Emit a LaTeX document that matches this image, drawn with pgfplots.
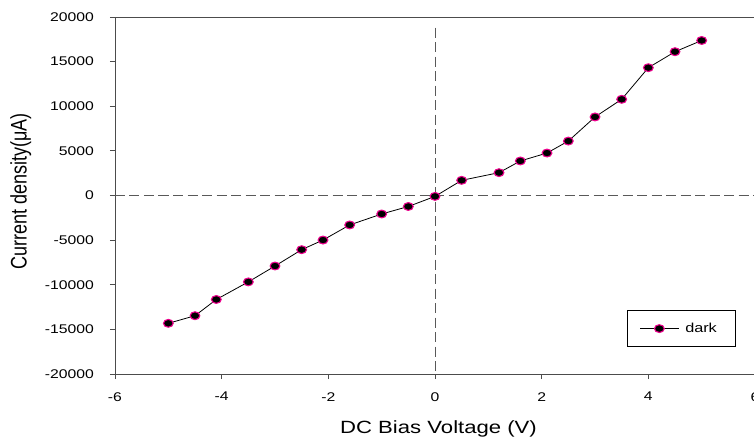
\documentclass[border=0pt]{standalone}
\usepackage{fontspec}
\setmainfont{Liberation Sans}
\newfontfamily\sfst{Liberation Sans}[FakeStretch=1.25]
\usepackage{pgfplots}
\pgfplotsset{compat=1.18}
\definecolor{axgray}{gray}{0.3}
\definecolor{dashgray}{gray}{0.35}
\begin{document}
\begin{tikzpicture}
\begin{axis}[
  at={(0pt,0pt)}, anchor=south west,
  scale only axis, width=640pt, height=357pt,
  xmin=-6, xmax=6, ymin=-20000, ymax=20000,
  xtick={-6,-4,...,6}, ytick={-20000,-15000,...,20000},
  scaled y ticks=false, scaled x ticks=false,
  tick pos=left, tick align=outside, major tick length=5pt,
  axis line style={draw=axgray, line width=0.9pt},
  tick style={draw=axgray, line width=0.9pt},
  /pgf/number format/assume math mode=true,
  /pgf/number format/set thousands separator={},
  ticklabel style={font=\fontsize{12.6}{14}\sfst, inner sep=0pt},
  xticklabel style={anchor=north},
  yticklabel style={anchor=east},
  xticklabel shift=13pt,
  yticklabel shift=16pt,
  xlabel={DC Bias Voltage (V)},
  xlabel style={font=\fontsize{17.7}{20}\sfst, at={(axis description cs:0.5055,0)}, anchor=base, yshift=-59pt, inner sep=0pt},
  ylabel={\scalebox{1}[1.25]{Current density(μA)}},
  ylabel style={font=\fontsize{18}{20}\selectfont, at={(axis description cs:-0.138,0.511)}, anchor=base, inner sep=0pt},
  legend style={at={(axis description cs:0.970,0.0756)}, anchor=south east,
    draw=black, line width=0.9pt, inner xsep=13pt, inner ysep=9.5pt,
    nodes={inner xsep=5.5pt, inner ysep=3pt},
    font=\fontsize{13}{15}\sfst},
  legend image code/.code={\draw[#1, mark repeat=2, mark phase=2] plot coordinates {(0pt,0pt) (19pt,0pt) (39pt,0pt)};},
  clip=false,
]
\addplot[dashgray, line width=0.9pt, dash pattern=on 10pt off 4.5pt, forget plot] coordinates {(-6,0) (6,0)};
\addplot[dashgray, line width=0.9pt, dash pattern=on 10pt off 4.5pt, forget plot] coordinates {(0,18800) (0,-20000)};
\addplot[black, line width=0.8pt, mark=*, mark size=3.9pt,
  mark options={fill=black, draw=magenta, line width=1.1pt, xscale=1.25}]
  coordinates {
  (-5,-14320) (-4.5,-13470) (-4.1,-11650) (-3.5,-9680) (-3,-7900)
  (-2.5,-6070) (-2.1,-4990) (-1.6,-3300) (-1,-2070) (-0.5,-1230)
  (0,-100) (0.5,1700) (1.2,2560) (1.6,3870) (2.1,4760) (2.5,6100)
  (3,8800) (3.5,10780) (4,14320) (4.5,16110) (5,17370)
  };
\addlegendentry{dark}
\end{axis}
\pgfresetboundingbox
\useasboundingbox (-115pt,-63pt) rectangle (639pt,374pt);
\end{tikzpicture}
\end{document}
